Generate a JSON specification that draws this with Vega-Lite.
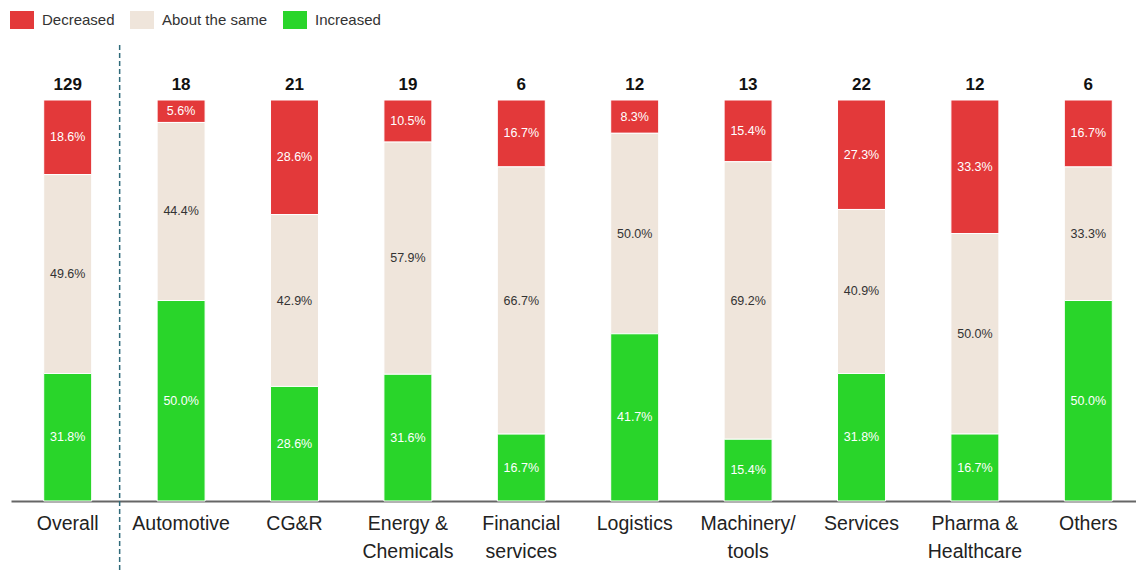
{
  "$schema": "https://vega.github.io/schema/vega-lite/v6.json",
  "width": 1125,
  "height": 401,
  "autosize": {"type": "none"},
  "padding": {"left": 11, "top": 100, "right": 0, "bottom": 70},
  "background": "white",
  "config": {"view": {"stroke": null}},
  "data": {
    "values": [
      {"category": "Overall", "status": "Decreased", "value": 18.6, "n": 129},
      {"category": "Overall", "status": "About the same", "value": 49.6, "n": 129},
      {"category": "Overall", "status": "Increased", "value": 31.8, "n": 129},
      {"category": "Automotive", "status": "Decreased", "value": 5.6, "n": 18},
      {"category": "Automotive", "status": "About the same", "value": 44.4, "n": 18},
      {"category": "Automotive", "status": "Increased", "value": 50.0, "n": 18},
      {"category": "CG&R", "status": "Decreased", "value": 28.6, "n": 21},
      {"category": "CG&R", "status": "About the same", "value": 42.9, "n": 21},
      {"category": "CG&R", "status": "Increased", "value": 28.6, "n": 21},
      {"category": "Energy & Chemicals", "status": "Decreased", "value": 10.5, "n": 19},
      {"category": "Energy & Chemicals", "status": "About the same", "value": 57.9, "n": 19},
      {"category": "Energy & Chemicals", "status": "Increased", "value": 31.6, "n": 19},
      {"category": "Financial services", "status": "Decreased", "value": 16.7, "n": 6},
      {"category": "Financial services", "status": "About the same", "value": 66.7, "n": 6},
      {"category": "Financial services", "status": "Increased", "value": 16.7, "n": 6},
      {"category": "Logistics", "status": "Decreased", "value": 8.3, "n": 12},
      {"category": "Logistics", "status": "About the same", "value": 50.0, "n": 12},
      {"category": "Logistics", "status": "Increased", "value": 41.7, "n": 12},
      {"category": "Machinery/ tools", "status": "Decreased", "value": 15.4, "n": 13},
      {"category": "Machinery/ tools", "status": "About the same", "value": 69.2, "n": 13},
      {"category": "Machinery/ tools", "status": "Increased", "value": 15.4, "n": 13},
      {"category": "Services", "status": "Decreased", "value": 27.3, "n": 22},
      {"category": "Services", "status": "About the same", "value": 40.9, "n": 22},
      {"category": "Services", "status": "Increased", "value": 31.8, "n": 22},
      {"category": "Pharma & Healthcare", "status": "Decreased", "value": 33.3, "n": 12},
      {"category": "Pharma & Healthcare", "status": "About the same", "value": 50.0, "n": 12},
      {"category": "Pharma & Healthcare", "status": "Increased", "value": 16.7, "n": 12},
      {"category": "Others", "status": "Decreased", "value": 16.7, "n": 6},
      {"category": "Others", "status": "About the same", "value": 33.3, "n": 6},
      {"category": "Others", "status": "Increased", "value": 50.0, "n": 6}
    ]
  },
  "transform": [
    {"calculate": "indexof(['Increased','About the same','Decreased'], datum.status)", "as": "ord"},
    {"stack": "value", "groupby": ["category"], "sort": [{"field": "ord", "order": "ascending"}], "offset": "normalize", "as": ["y0", "y1"]},
    {"calculate": "(datum.y0 + datum.y1) / 2", "as": "mid"},
    {"calculate": "format(datum.value, '.1f') + '%'", "as": "label"}
  ],
  "encoding": {
    "x": {
      "field": "category",
      "type": "nominal",
      "sort": null,
      "scale": {"range": [0, 1134], "paddingInner": 0.577, "paddingOuter": 0.2885},
      "axis": {
        "title": null,
        "labelAngle": 0,
        "ticks": false,
        "domainColor": "#666666",
        "domainWidth": 2,
        "labelFont": "Liberation Sans",
        "labelFontSize": 19.5,
        "labelColor": "#222222",
        "labelPadding": 13,
        "labelLineHeight": 28,
        "labelExpr": "datum.label == 'Energy & Chemicals' ? ['Energy &', 'Chemicals'] : datum.label == 'Financial services' ? ['Financial', 'services'] : datum.label == 'Machinery/ tools' ? ['Machinery/', 'tools'] : datum.label == 'Pharma & Healthcare' ? ['Pharma &', 'Healthcare'] : datum.label"
      }
    }
  },
  "layer": [
    {
      "mark": {"type": "bar", "stroke": "white", "strokeWidth": 1},
      "encoding": {
        "y": {"field": "y0", "type": "quantitative", "scale": {"domain": [0, 1], "nice": false}, "axis": null},
        "y2": {"field": "y1"},
        "color": {
          "field": "status",
          "type": "nominal",
          "scale": {"domain": ["Decreased", "About the same", "Increased"], "range": ["#E3393A", "#EFE5DB", "#29D52A"]},
          "legend": {
            "title": null,
            "orient": "none",
            "legendX": -1,
            "legendY": -92,
            "direction": "horizontal",
            "symbolType": "M-1,-0.75H1V0.75H-1Z",
            "symbolSize": 576,
            "symbolStrokeWidth": 0,
            "symbolOpacity": 1,
            "labelFont": "Liberation Sans",
            "labelFontSize": 15,
            "labelColor": "#333333",
            "labelOffset": 8,
            "columnPadding": 15,
            "padding": 0
          }
        }
      }
    },
    {
      "mark": {"type": "text", "font": "Liberation Sans", "fontSize": 12.5, "baseline": "middle", "align": "center"},
      "encoding": {
        "y": {"field": "mid", "type": "quantitative"},
        "text": {"field": "label"},
        "color": {"condition": {"test": "datum.status == 'About the same'", "value": "#333333"}, "value": "#ffffff"}
      }
    },
    {
      "transform": [{"filter": "datum.status == 'Decreased'"}],
      "mark": {"type": "text", "font": "Liberation Sans", "fontWeight": "bold", "fontSize": 17, "baseline": "bottom", "align": "center", "dy": -6, "color": "#111111"},
      "encoding": {
        "y": {"datum": 1, "type": "quantitative"},
        "text": {"field": "n"}
      }
    },
    {
      "transform": [{"filter": "datum.category == 'Overall' && datum.status == 'Decreased'"}],
      "mark": {"type": "rule", "color": "#2F6A7A", "strokeWidth": 1.5, "strokeDash": [5, 3]},
      "encoding": {
        "x": {"field": "category", "type": "nominal", "sort": null, "bandPosition": 1.583},
        "y": {"datum": 1.137, "type": "quantitative"},
        "y2": {"datum": -0.175}
      }
    }
  ]
}
